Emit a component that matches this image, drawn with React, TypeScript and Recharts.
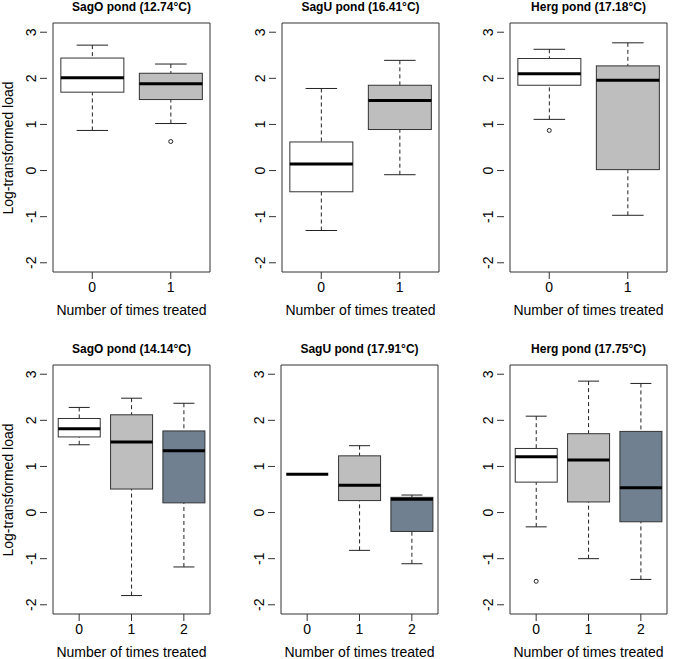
import { ComposedChart, Bar, Scatter, XAxis, YAxis, ReferenceArea } from 'recharts';

const categoriesTwo = ['0', '1'];
const categoriesThree = ['0', '1', '2'];
const yTicks = [-2, -1, 0, 1, 2, 3];
const yDomain = [-2.2, 3.2];
const groupFills = ['#ffffff', '#bebebe', '#708090'];

// per group: [lower whisker, Q1, median, Q3, upper whisker]
const sagOFirst = [[0.87, 1.70, 2.01, 2.44, 2.72], [1.02, 1.54, 1.88, 2.11, 2.31]];
const sagOFirstOut = [null, 0.63];
const sagUFirst = [[-1.30, -0.46, 0.14, 0.62, 1.78], [-0.09, 0.89, 1.52, 1.85, 2.39]];
const sagUFirstOut = [null, null];
const hergFirst = [[1.11, 1.85, 2.10, 2.43, 2.63], [-0.97, 0.02, 1.96, 2.27, 2.77]];
const hergFirstOut = [0.87, null];
const sagOSecond = [[1.47, 1.64, 1.82, 2.04, 2.28], [-1.80, 0.51, 1.53, 2.12, 2.48], [-1.18, 0.21, 1.34, 1.77, 2.37]];
const sagOSecondOut = [null, null, null];
const sagUSecond = [[0.83, 0.83, 0.83, 0.83, 0.83], [-0.82, 0.26, 0.59, 1.23, 1.45], [-1.11, -0.41, 0.29, 0.33, 0.38]];
const sagUSecondOut = [null, null, null];
const hergSecond = [[-0.31, 0.66, 1.21, 1.39, 2.09], [-1.00, 0.23, 1.14, 1.71, 2.85], [-1.45, -0.20, 0.54, 1.76, 2.80]];
const hergSecondOut = [-1.49, null, null];

const FONT = '"Liberation Sans", Arial, sans-serif';
const BOX_W = 169;
const BOX_H = 249;
const AXIS_W = 47;
const TOP_M = 23;
const AXIS_H = 32;

const panels = [
  { title: 'SagO pond (12.74°C)', cats: categoriesTwo, stats: sagOFirst, out: sagOFirstOut, left: 47, top: 23, yLabel: true },
  { title: 'SagU pond (16.41°C)', cats: categoriesTwo, stats: sagUFirst, out: sagUFirstOut, left: 276, top: 23, yLabel: false },
  { title: 'Herg pond (17.18°C)', cats: categoriesTwo, stats: hergFirst, out: hergFirstOut, left: 504, top: 23, yLabel: false },
  { title: 'SagO pond (14.14°C)', cats: categoriesThree, stats: sagOSecond, out: sagOSecondOut, left: 47, top: 365, yLabel: true },
  { title: 'SagU pond (17.91°C)', cats: categoriesThree, stats: sagUSecond, out: sagUSecondOut, left: 275, top: 365, yLabel: false },
  { title: 'Herg pond (17.75°C)', cats: categoriesThree, stats: hergSecond, out: hergSecondOut, left: 504, top: 365, yLabel: false },
];

const BoxShape = (props: any) => {
  const { x, y, width, height, payload } = props;
  const { lo, q1, med, q3, hi, fill } = payload;
  const span = hi - lo;
  const toY = (v: number) => (span > 0 ? y + ((hi - v) / span) * height : y);
  const cx = x + width / 2;
  const cap = width / 4;
  return (
    <g>
      <line x1={cx} x2={cx} y1={toY(hi)} y2={toY(q3)} stroke="#222" strokeDasharray="4 3" />
      <line x1={cx} x2={cx} y1={toY(lo)} y2={toY(q1)} stroke="#222" strokeDasharray="4 3" />
      <line x1={cx - cap} x2={cx + cap} y1={toY(hi)} y2={toY(hi)} stroke="#222" />
      <line x1={cx - cap} x2={cx + cap} y1={toY(lo)} y2={toY(lo)} stroke="#222" />
      {q3 > q1 && (
        <rect x={x} y={toY(q3)} width={width} height={toY(q1) - toY(q3)} fill={fill} stroke="#333" />
      )}
      <line x1={x} x2={x + width} y1={toY(med)} y2={toY(med)} stroke="#000" strokeWidth={3} />
    </g>
  );
};

const OutlierShape = (props: any) => {
  const { cx, cy, payload } = props;
  if (payload.outlier == null || !Number.isFinite(cy)) return null;
  return <circle cx={cx} cy={cy} r={2} fill="none" stroke="#222" />;
};

const YTick = (props: any) => {
  const { x, y, payload } = props;
  return (
    <text x={x} y={y} transform={`rotate(-90 ${x} ${y})`} textAnchor="middle" fontSize={14} fill="#000" fontFamily={FONT}>
      {payload.value}
    </text>
  );
};

function Panel({ p }: any) {
  const data = p.stats.map((s: number[], i: number) => ({
    cat: p.cats[i],
    range: [s[0], s[4]],
    lo: s[0], q1: s[1], med: s[2], q3: s[3], hi: s[4],
    outlier: p.out[i],
    fill: groupFills[i],
  }));
  const chartLeft = p.left - AXIS_W;
  const chartTop = p.top - TOP_M;
  return (
    <>
      <div style={{ position: 'absolute', left: chartLeft, top: chartTop }}>
        <ComposedChart
          width={AXIS_W + BOX_W + 4}
          height={TOP_M + BOX_H + AXIS_H}
          data={data}
          margin={{ top: TOP_M, right: 4, bottom: 0, left: 0 }}
          barCategoryGap="10%"
        >
          <XAxis
            dataKey="cat"
            padding={{ left: 6, right: 6 }}
            axisLine={false}
            tickSize={7}
            tickMargin={3}
            tickLine={{ stroke: '#333' }}
            tick={{ fontSize: 14, fill: '#000', fontFamily: FONT }}
            height={AXIS_H}
            interval={0}
          />
          <YAxis
            type="number"
            domain={yDomain}
            ticks={yTicks}
            allowDataOverflow
            width={AXIS_W}
            axisLine={false}
            tickSize={7}
            tickMargin={4}
            tickLine={{ stroke: '#333' }}
            tick={<YTick />}
          />
          <ReferenceArea y1={yDomain[0]} y2={yDomain[1]} fill="none" stroke="#333" ifOverflow="visible" />
          <Bar dataKey="range" shape={<BoxShape />} isAnimationActive={false} />
          <Scatter dataKey="outlier" shape={<OutlierShape />} isAnimationActive={false} />
        </ComposedChart>
      </div>
      <div style={{ position: 'absolute', left: p.left, top: p.top - 23, width: BOX_W, textAlign: 'center', fontFamily: FONT, fontWeight: 'bold', fontSize: 12, lineHeight: '14px' }}>
        {p.title}
      </div>
      <div style={{ position: 'absolute', left: p.left - 20, top: p.top + BOX_H + 30, width: BOX_W + 40, textAlign: 'center', fontFamily: FONT, fontSize: 14, lineHeight: '16px' }}>
        Number of times treated
      </div>
      {p.yLabel && (
        <div style={{ position: 'absolute', left: 8 - 80, top: p.top + BOX_H / 2 - 8, width: 160, textAlign: 'center', fontFamily: FONT, fontSize: 14, lineHeight: '16px', transform: 'rotate(-90deg)' }}>
          Log-transformed load
        </div>
      )}
    </>
  );
}

export default function App() {
  return (
    <div style={{ position: 'absolute', left: 0, top: 0, width: 675, height: 659, background: '#fff', overflow: 'hidden' }}>
      {panels.map((p) => (
        <Panel key={p.title} p={p} />
      ))}
    </div>
  );
}
